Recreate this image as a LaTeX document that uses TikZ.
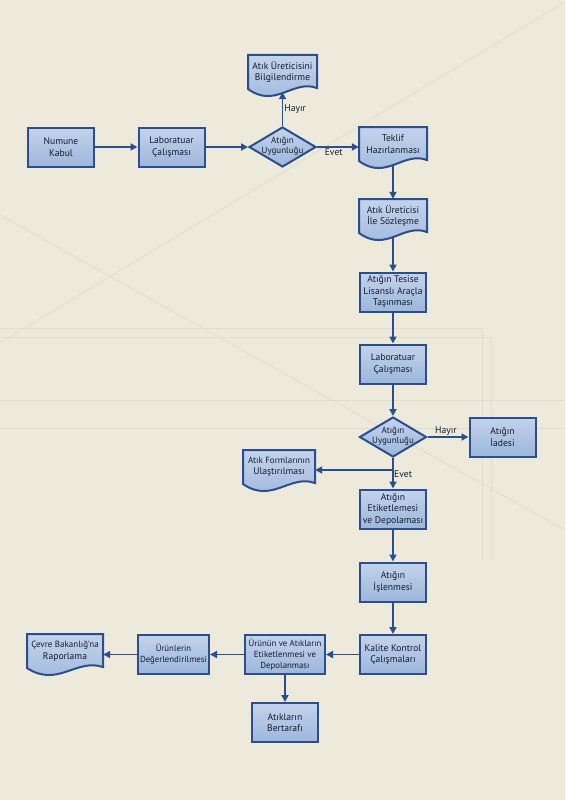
\documentclass[tikz,border=0pt]{standalone}
\usepackage{fontspec}
\setmainfont{PT Sans}
\usepackage{tikz}
\usetikzlibrary{shapes.geometric,arrows.meta}
\definecolor{kenar}{HTML}{2A4E8E}
\definecolor{dolguA}{HTML}{C3D3EB}
\definecolor{dolguB}{HTML}{9DB6DB}
\definecolor{zemin}{HTML}{EDEADB}
\definecolor{cizgi}{HTML}{E2DDCB}
\definecolor{yazi}{HTML}{141C30}
\newcommand\belge[5]{%
	\path[belgecizgi] ({#2-#4/2},#3) -- ({#2+#4/2},#3) -- ({#2+#4/2},#3+33)
		.. controls ({#2+0.15*#4},#3+24) and ({#2-0.1*#4},#3+54) .. ({#2-#4/2},#3+34) -- cycle;
	\node[belgeyazi, minimum width=#4] (#1) at (#2,#3+17) {#5};
}

\begin{document}
\begin{tikzpicture}[x=1pt, y=-1pt,
		kutu/.style={rectangle, draw=kenar, line width=2pt, top color=dolguA, bottom color=dolguB,
			minimum width=66pt, minimum height=39pt, inner sep=1pt, align=center, text=yazi,
			font=\fontsize{9.6}{11.5}\selectfont},
		kucuk/.style={font=\fontsize{8.8}{11}\selectfont},
		karar/.style={diamond, draw=kenar, line width=2pt, top color=dolguA, bottom color=dolguB,
			minimum width=67pt, minimum height=40pt, inner sep=0pt},
		kararyazi/.style={align=center, text=yazi, inner sep=0pt, font=\fontsize{9}{9.8}\selectfont},
		belgecizgi/.style={draw=kenar, line width=2pt, top color=dolguA, bottom color=dolguB},
		belgeyazi/.style={align=center, text=yazi, inner sep=0pt, minimum height=34pt,
			font=\fontsize{9.6}{11.5}\selectfont},
		ok/.style={draw=kenar, line width=1.8pt, -{Triangle[length=7pt,width=7pt]}},
		yon/.style={text=yazi, inner sep=1pt, font=\fontsize{9.6}{11}\selectfont}]
	
	\path[use as bounding box, fill=zemin] (0,0) rectangle (565,800);
	\draw[cizgi, line width=0.7pt] (0,343) -- (565,2);
	\draw[cizgi, line width=0.7pt] (0,215) -- (565,530);
	\draw[cizgi, line width=0.7pt] (0,328) -- (482,328) -- (482,560);
	\draw[cizgi, line width=0.7pt] (0,337) -- (491,337) -- (491,560);
	\draw[cizgi, line width=0.7pt] (0,400) -- (565,400);
	\draw[cizgi, line width=0.7pt] (0,428) -- (565,428);
	
	\node[kutu] (numune) at (61,147) {Numune\\Kabul};
	\node[kutu] (lab1) at (171.5,147) {Laboratuar\\Çalışması};
	\node[karar] (uyg1) at (282.5,147) {};
	\node[kararyazi] (uyg1y) at (282.5,146) {Atığın\\Uygunluğu};
	\belge{bilgi}{282.5}{55}{69}{Atık Üreticisini\\Bilgilendirme}
	\belge{teklif}{393}{127}{68}{Teklif\\Hazırlanması}
	\belge{soz}{393}{199}{68}{Atık Üreticisi\\İle Sözleşme}
	\node[kutu] (tasin) at (393,292) {Atığın Tesise\\Lisanslı Araçla\\Taşınması};
	\node[kutu] (lab2) at (393,364) {Laboratuar\\Çalışması};
	\node[karar] (uyg2) at (393,437) {};
	\node[kararyazi] (uyg2y) at (393,436) {Atığın\\Uygunluğu};
	\node[kutu] (iade) at (502.5,437) {Atığın\\İadesi};
	\belge{formlar}{279}{450}{72}{\fontsize{9}{11}\selectfont Atık Formlarının\\Ulaştırılması}
	\node[kutu] (etiket) at (393,509) {Atığın\\Etiketlemesi\\ve Depolaması};
	\node[kutu] (islen) at (393,582) {Atığın\\İşlenmesi};
	\node[kutu] (kalite) at (393,654.5) {Kalite Kontrol\\Çalışmaları};
	\node[kutu, kucuk, minimum width=80pt] (urun) at (285,654.5) {Ürünün ve Atıkların\\Etiketlenmesi ve\\Depolanması};
	\node[kutu, kucuk, minimum width=71pt] (deger) at (173.5,654.5) {Ürünlerin\\Değerlendirilmesi};
	\belge{cevre}{65}{634}{76}{\fontsize{9}{11}\selectfont Çevre Bakanlığ’na\\Raporlama}
	\node[kutu] (bertaraf) at (285,722.5) {Atıkların\\Bertarafı};
	\coordinate (ayrim) at (393,470);
	
	\draw[ok] (numune.east) -- (lab1.west);
	\draw[ok] (lab1.east) -- (uyg1.west);
	\draw[ok] (uyg1.east) -- node[yon, pos=0.4, below] (evet1) {Evet} (uyg1.east -| teklif.west);
	\draw[ok, shorten >=3pt] (uyg1.north) -- node[yon, right, pos=0.45] (hayir1) {Hayır} (bilgi.south);
	\draw[ok, shorten <=3pt] (teklif.south) -- (soz.north);
	\draw[ok, shorten <=3pt] (soz.south) -- (tasin.north);
	\draw[ok] (tasin.south) -- (lab2.north);
	\draw[ok] (lab2.south) -- (uyg2.north);
	\draw[ok] (uyg2.east) -- node[yon, above, pos=0.45] (hayir2) {Hayır} (iade.west);
	\draw[ok] (uyg2.south) -- (etiket.north);
	\draw[ok] (ayrim) -- (ayrim -| formlar.east);
	\node[yon, below right] (evet2) at (ayrim) {Evet};
	\draw[ok] (etiket.south) -- (islen.north);
	\draw[ok] (islen.south) -- (kalite.north);
	\draw[ok] (kalite.west) -- (urun.east);
	\draw[ok] (urun.west) -- (deger.east);
	\draw[ok] (deger.west) -- (deger.west -| cevre.east);
	\draw[ok] (urun.south) -- (bertaraf.north);
\end{tikzpicture}
\end{document}
